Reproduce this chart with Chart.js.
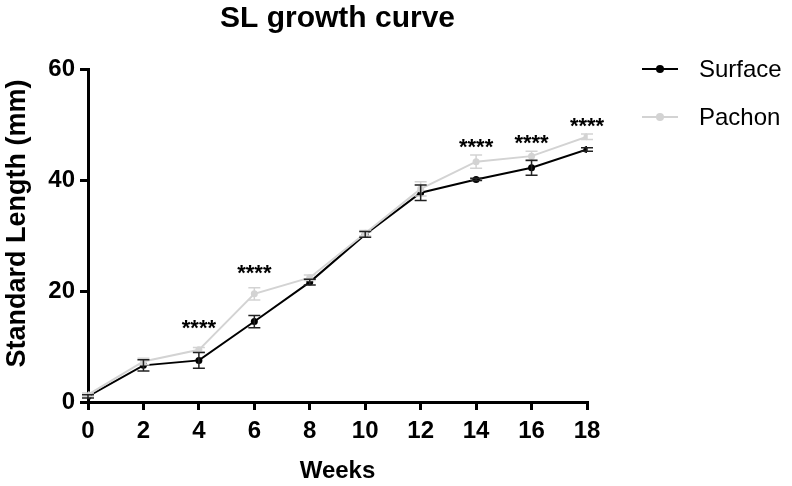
<!DOCTYPE html>
<html>
<head>
<meta charset="utf-8">
<script src="https://cdn.jsdelivr.net/npm/chart.js@4.4.0/dist/chart.umd.min.js"></script>
<style>
  html, body { margin: 0; padding: 0; background: #fff; }
  #wrap { width: 792px; height: 486px; }
</style>
</head>
<body>
<div id="wrap"><canvas id="slChart" width="792" height="486"></canvas></div>
<script>
// data
var weeks = [0, 2, 4, 6, 8, 10, 12, 14, 16, 18];
var surfaceMean = [1.0, 6.6, 7.5, 14.5, 21.6, 30.2, 37.7, 40.1, 42.2, 45.5];
var surfaceSem  = [0.3, 1.0, 1.4, 1.1, 0.5, 0.5, 1.4, 0.2, 1.35, 0.3];
var pachonMean  = [1.3, 7.3, 9.4, 19.5, 22.4, 30.4, 38.4, 43.3, 44.3, 47.8];
var pachonSem   = [0.3, 0.6, 0.4, 1.1, 0.5, 0.5, 1.3, 1.2, 0.9, 0.5];
var sigWeeks  = [4, 6, 14, 16, 18];
var sigLevels = [14.4, 24.3, 47.0, 47.7, 50.8];
var sigLabel = "****";
var yTicks = [0, 20, 40, 60];

var FONT = "'Liberation Sans', Arial, Helvetica, sans-serif";
var colSurface = "#000000";
var colPachon = "#d3d3d3";

function punkte(means) {
  var out = [];
  for (var i = 0; i < weeks.length; i++) {
    out.push({ x: weeks[i], y: means[i] });
  }
  return out;
}

/* error bars + asterisks, title, y title and legend */
var fehlerPlugin = {
  id: "fehler",
  afterDatasetsDraw: function (chart) {
    var ctx = chart.ctx;
    var xs = chart.scales.x, ys = chart.scales.y;
    var serien = [
      { m: pachonMean, s: pachonSem, c: colPachon },
      { m: surfaceMean, s: surfaceSem, c: "#222222" }
    ];
    ctx.save();
    ctx.lineWidth = 1.5;
    for (var k = 0; k < serien.length; k++) {
      ctx.strokeStyle = serien[k].c;
      for (var i = 0; i < weeks.length; i++) {
        var px = xs.getPixelForValue(weeks[i]);
        var top = ys.getPixelForValue(serien[k].m[i] + serien[k].s[i]);
        var bot = ys.getPixelForValue(serien[k].m[i] - serien[k].s[i]);
        ctx.beginPath();
        ctx.moveTo(px, top); ctx.lineTo(px, bot);
        ctx.moveTo(px - 6, top); ctx.lineTo(px + 6, top);
        ctx.moveTo(px - 6, bot); ctx.lineTo(px + 6, bot);
        ctx.stroke();
      }
    }
    ctx.fillStyle = "#000";
    ctx.font = "bold 22px " + FONT;
    ctx.textAlign = "center";
    ctx.textBaseline = "alphabetic";
    for (var j = 0; j < sigWeeks.length; j++) {
      ctx.fillText(sigLabel, xs.getPixelForValue(sigWeeks[j]), ys.getPixelForValue(sigLevels[j]) + 12.5);
    }
    ctx.restore();
  },
  afterDraw: function (chart) {
    var ctx = chart.ctx;
    var area = chart.chartArea;
    ctx.save();
    // title, centred over the plot area
    ctx.fillStyle = "#000";
    ctx.font = "bold 30px " + FONT;
    ctx.textAlign = "center";
    ctx.textBaseline = "alphabetic";
    ctx.fillText("SL growth curve", (area.left + area.right) / 2, 27);
    ctx.restore();

    // y axis title (sits a little above the axis centre in the original)
    ctx.save();
    ctx.fillStyle = "#000";
    ctx.font = "bold 27px " + FONT;
    ctx.textAlign = "center";
    ctx.textBaseline = "middle";
    ctx.translate(18, (area.top + area.bottom) / 2 - 12);
    ctx.rotate(-Math.PI / 2);
    ctx.fillText("Standard Length (mm)", 0, 0);
    ctx.restore();

    // legend
    var eintraege = [
      { t: "Surface", c: colSurface, y: 69 },
      { t: "Pachon", c: colPachon, y: 117 }
    ];
    ctx.save();
    ctx.font = "24px " + FONT;
    ctx.textBaseline = "middle";
    ctx.textAlign = "left";
    for (var i = 0; i < eintraege.length; i++) {
      var e = eintraege[i];
      ctx.strokeStyle = e.c;
      ctx.fillStyle = e.c;
      ctx.lineWidth = 2;
      ctx.beginPath();
      ctx.moveTo(642, e.y); ctx.lineTo(678, e.y);
      ctx.stroke();
      ctx.beginPath();
      ctx.arc(660, e.y, 4, 0, Math.PI * 2);
      ctx.fill();
      ctx.fillStyle = "#000";
      ctx.fillText(e.t, 699, e.y + 1);
    }
    ctx.restore();
  }
};

var ctx = document.getElementById("slChart");
var myChart = new Chart(ctx, {
  type: "line",
  data: {
    datasets: [{
      label: "Pachon",
      data: punkte(pachonMean),
      borderColor: colPachon,
      backgroundColor: colPachon,
      borderWidth: 2,
      pointRadius: 3.5,
      pointBorderWidth: 0,
      tension: 0
    }, {
      label: "Surface",
      data: punkte(surfaceMean),
      borderColor: colSurface,
      backgroundColor: colSurface,
      borderWidth: 2,
      pointRadius: 3.5,
      pointBorderWidth: 0,
      tension: 0
    }]
  },
  options: {
    responsive: false,
    animation: false,
    layout: { padding: { top: 69, right: 205, left: 0, bottom: 0 } },
    plugins: {
      legend: { display: false },
      tooltip: { enabled: false }
    },
    scales: {
      x: {
        type: "linear",
        min: 0, max: 18,
        border: { display: true, color: "#000", width: 3 },
        grid: { display: true, drawOnChartArea: false, drawTicks: true, tickLength: 8, color: "#000", lineWidth: 3 },
        ticks: {
          stepSize: 2, padding: 7, color: "#000",
          font: { family: FONT, size: 24, weight: "bold" }
        },
        title: {
          display: true, text: "Weeks", color: "#000",
          font: { family: FONT, size: 24, weight: "bold" },
          padding: { top: 4, bottom: 0 }
        },
        afterFit: function (s) { s.height = 84; }
      },
      y: {
        min: 0, max: 60,
        border: { display: true, color: "#000", width: 3 },
        grid: { display: true, drawOnChartArea: false, drawTicks: true, tickLength: 8, color: "#000", lineWidth: 3 },
        afterBuildTicks: function (s) {
          s.ticks = yTicks.map(function (v) { return { value: v }; });
        },
        ticks: {
          padding: 5, color: "#000",
          font: { family: FONT, size: 24, weight: "bold" }
        },
        afterFit: function (s) { s.width = 88; }
      }
    }
  },
  plugins: [fehlerPlugin]
});
</script>
</body>
</html>
